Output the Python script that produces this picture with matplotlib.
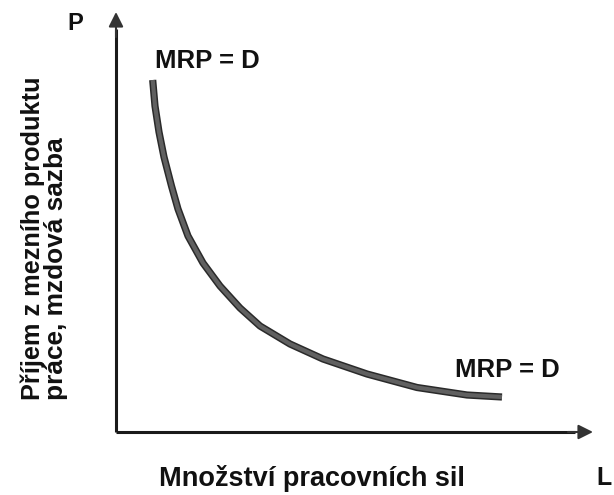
import matplotlib
matplotlib.use("Agg")
import matplotlib.pyplot as plt

plt.rcParams['font.family'] = ['Liberation Sans', 'DejaVu Sans']

# MRP = D curve (L, P)
L_vals = [3.67, 3.9, 4.3, 4.8, 5.55, 6.2, 7.2, 8.7, 10.4, 12.4, 14.4, 17.4, 20.7, 25.1, 30.1, 35.1, 38.6]
P_vals = [35.2, 32.6, 30.0, 27.5, 24.6, 22.3, 19.6, 16.9, 14.6, 12.4, 10.6, 8.8, 7.3, 5.8, 4.45, 3.7, 3.5]

x_label = "Množství pracovních sil"
y_label_1 = "Příjem z mezního produktu"
y_label_2 = "práce, mzdová sazba"
curve_label = "MRP = D"

fig = plt.figure(figsize=(6.14, 4.95), dpi=100)
ax = fig.add_axes([0, 0, 1, 1])
ax.set_xlim(-11.6, 49.8)
ax.set_ylim(-6.3, 43.2)
ax.axis('off')

axis_col = '#1a1a1a'
# axes with arrows
ax.plot([0, 0], [0, 40.3], color=axis_col, lw=2.2, solid_capstyle='butt')
ax.plot([0, 45.9], [0, 0], color=axis_col, lw=2.2, solid_capstyle='butt')
ax.annotate('', xy=(0, 42.0), xytext=(0, 39.5),
            arrowprops=dict(arrowstyle='-|>', color='#333333', lw=1.5, mutation_scale=22, shrinkA=0, shrinkB=0))
ax.annotate('', xy=(47.7, 0), xytext=(45.2, 0),
            arrowprops=dict(arrowstyle='-|>', color='#333333', lw=1.5, mutation_scale=22, shrinkA=0, shrinkB=0))

# curve
ax.plot(L_vals, P_vals, color='#2a2a2a', lw=5.2, solid_capstyle='butt', solid_joinstyle='round')
ax.plot(L_vals, P_vals, color='#606060', lw=3.0, solid_capstyle='butt', solid_joinstyle='round')

tc = '#111111'
ax.text(-4.1, 40.9, "P", fontsize=17, fontweight='bold', ha='center', va='center', color=tc)
ax.text(48.8, -4.6, "L", fontsize=18, fontweight='bold', ha='center', va='center', color=tc)
ax.text(9.1, 37.1, curve_label, fontsize=18.5, fontweight='bold', ha='center', va='center', color=tc)
ax.text(39.1, 6.2, curve_label, fontsize=18.5, fontweight='bold', ha='center', va='center', color=tc)
ax.text(19.6, -4.6, x_label, fontsize=19.5, fontweight='bold', ha='center', va='center', color=tc)
ax.text(-8.3, 3.2, y_label_1, fontsize=18.2, fontweight='bold', ha='left', va='center',
        rotation=90, rotation_mode='anchor', color=tc)
ax.text(-6.0, 3.2, y_label_2, fontsize=18.9, fontweight='bold', ha='left', va='center',
        rotation=90, rotation_mode='anchor', color=tc)

fig.savefig('out.png', dpi=100)
